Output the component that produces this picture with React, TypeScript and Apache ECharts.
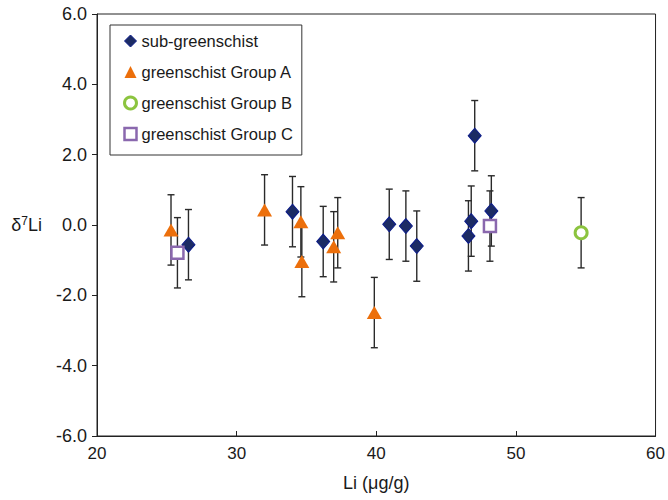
import React, { useEffect, useRef } from "react";
import * as echarts from "echarts";

const subX = [26.55, 34.0, 36.2, 40.93, 42.12, 42.9, 46.6, 46.8, 47.05, 48.24];
const subY = [-0.56, 0.38, -0.47, 0.02, -0.03, -0.6, -0.31, 0.11, 2.54, 0.4];
const subErr = [1.0, 1.0, 1.0, 1.0, 1.0, 1.0, 1.0, 1.0, 1.0, 1.0];

const aX = [25.3, 32.0, 34.6, 34.67, 36.95, 37.24, 39.86];
const aY = [-0.14, 0.43, 0.09, -1.04, -0.62, -0.22, -2.49];
const aErr = [1.0, 1.0, 1.0, 1.0, 1.0, 1.0, 1.0];

const bX = [54.67];
const bY = [-0.22];
const bErr = [1.0];

const cX = [25.76, 48.14];
const cY = [-0.79, -0.03];
const cErr = [1.0, 1.0];

const seriesNames = ["sub-greenschist", "greenschist Group A", "greenschist Group B", "greenschist Group C"];

const FONT = "Liberation Sans, Arial, Helvetica, sans-serif";
const TXT = "#1a1a1a";

export default function App() {
  const ref = useRef<HTMLDivElement>(null);
  useEffect(() => {
    if (!ref.current) return;
    const chart = echarts.init(ref.current, undefined, { renderer: "svg" });
    const pts = (xs: number[], ys: number[]) => xs.map((x, i) => [x, ys[i]]);
    const errData: number[][] = [];
    const addErr = (xs: number[], ys: number[], es: number[]) =>
      xs.forEach((x, i) => errData.push([x, ys[i] - es[i], ys[i] + es[i]]));
    addErr(subX, subY, subErr);
    addErr(aX, aY, aErr);
    addErr(bX, bY, bErr);
    addErr(cX, cY, cErr);

    chart.setOption({
      animation: false,
      backgroundColor: "#fff",
      textStyle: { fontFamily: FONT },
      grid: { left: 97, right: 12, top: 14, bottom: 64, show: true, borderColor: "#222", borderWidth: 1 },
      legend: {
        data: [
          { name: seriesNames[0], icon: "diamond", itemStyle: { color: "#1c2b64", borderColor: "#0a1a8a", borderWidth: 1 } },
          { name: seriesNames[1], icon: "triangle", itemStyle: { color: "#ec6f0b" } },
          { name: seriesNames[2], icon: "circle", itemStyle: { color: "#fff", borderColor: "#8cc43f", borderWidth: 3 } },
          { name: seriesNames[3], icon: "rect", itemStyle: { color: "#fff", borderColor: "#8a68ae", borderWidth: 2.5 } },
        ],
        orient: "vertical",
        left: 110,
        top: 25,
        padding: [7, 9, 12, 13],
        itemGap: 13,
        itemWidth: 12,
        itemHeight: 12,
        borderColor: "#333",
        borderWidth: 1,
        backgroundColor: "#fff",
        textStyle: { fontFamily: FONT, fontSize: 16.5, color: TXT, lineHeight: 18 },
      },
      xAxis: {
        type: "value",
        min: 20,
        max: 60,
        interval: 10,
        name: "Li (μg/g)",
        nameLocation: "middle",
        nameGap: 38,
        nameTextStyle: { fontFamily: FONT, fontSize: 18, color: TXT },
        splitLine: { show: false },
        axisLine: { show: true, onZero: false, lineStyle: { color: "#222" } },
        axisTick: { show: true, inside: true, length: 5, lineStyle: { color: "#222" } },
        axisLabel: { fontFamily: FONT, fontSize: 17, color: TXT, margin: 9 },
      },
      yAxis: {
        type: "value",
        min: -6,
        max: 6,
        interval: 2,
        name: "{a|δ}{s|7}{a|Li}",
        nameLocation: "middle",
        nameRotate: 0,
        nameGap: 55,
        nameTextStyle: {
          rich: {
            a: { fontFamily: FONT, fontSize: 18, color: TXT },
            s: { fontFamily: FONT, fontSize: 12, color: TXT, padding: [0, 0, 9, 0] },
          },
        },
        splitLine: { show: false },
        axisLine: { show: true, onZero: false, lineStyle: { color: "#222" } },
        axisTick: { show: true, length: 5, lineStyle: { color: "#222" } },
        axisLabel: { fontFamily: FONT, fontSize: 18, color: TXT, margin: 10, formatter: (v: number) => v.toFixed(1) },
      },
      series: [
        {
          type: "custom",
          name: "err",
          z: 1,
          silent: true,
          data: errData,
          encode: { x: 0, y: [1, 2] },
          renderItem: (params: any, api: any) => {
            const x = api.value(0);
            const lo = api.coord([x, api.value(1)]);
            const hi = api.coord([x, api.value(2)]);
            const cap = 3.5;
            const style = { stroke: "#2a2a2a", lineWidth: 1.4 };
            return {
              type: "group",
              children: [
                { type: "line", shape: { x1: lo[0], y1: lo[1], x2: hi[0], y2: hi[1] }, style },
                { type: "line", shape: { x1: lo[0] - cap, y1: lo[1], x2: lo[0] + cap, y2: lo[1] }, style },
                { type: "line", shape: { x1: hi[0] - cap, y1: hi[1], x2: hi[0] + cap, y2: hi[1] }, style },
              ],
            };
          },
        },
        {
          type: "scatter",
          name: seriesNames[0],
          z: 3,
          data: pts(subX, subY),
          symbol: "diamond",
          symbolSize: [13, 15],
          itemStyle: { color: "#1c2b64", borderColor: "#0a1a8a", borderWidth: 1, opacity: 1 },
        },
        {
          type: "scatter",
          name: seriesNames[1],
          z: 3,
          data: pts(aX, aY),
          symbol: "triangle",
          symbolSize: [15, 13],
          itemStyle: { color: "#ec6f0b", opacity: 1 },
        },
        {
          type: "scatter",
          name: seriesNames[2],
          z: 3,
          data: pts(bX, bY),
          symbol: "circle",
          symbolSize: 12,
          itemStyle: { color: "#fff", borderColor: "#8cc43f", borderWidth: 3, opacity: 1 },
        },
        {
          type: "scatter",
          name: seriesNames[3],
          z: 3,
          data: pts(cX, cY),
          symbol: "rect",
          symbolSize: 12,
          itemStyle: { color: "#fff", borderColor: "#8a68ae", borderWidth: 2.5, opacity: 1 },
        },
      ],
    });
    return () => chart.dispose();
  }, []);
  return <div ref={ref} style={{ width: 668, height: 500, position: "absolute", left: 0, top: 0 }} />;
}
